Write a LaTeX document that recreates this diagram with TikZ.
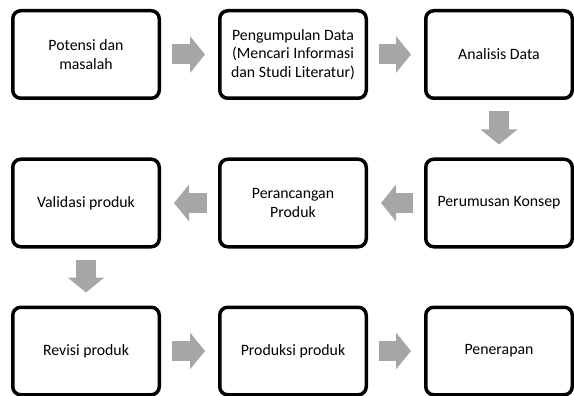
\documentclass[tikz,border=0pt]{standalone}
\usepackage{fontspec}
\setmainfont{Carlito}
\usetikzlibrary{arrows.meta}
\definecolor{arrowgray}{RGB}{166,166,166}

\begin{document}
\begin{tikzpicture}[x=1pt,y=-1pt,
    stage/.style={draw=black, line width=3.5pt, rounded corners=8pt,
        minimum width=146.5pt, minimum height=87.5pt, inner sep=2pt,
        align=center, font=\fontsize{15.8}{18.5}\selectfont},
    flow/.style={arrowgray, line width=20pt,
        -{Triangle[length=15pt,width=36pt]},
        shorten <=11pt, shorten >=13pt}]
    \useasboundingbox (0,0) rectangle (574,396);

    % Stages
    \node[stage] (potensi)  at (86,54.5)  {Potensi dan\\masalah};
    \node[stage] (data)     at (293,54.5) {Pengumpulan Data\\(Mencari Informasi\\dan Studi Literatur)};
    \node[stage] (analisis) at (499,54.5) {Analisis Data};

    \node[stage] (konsep)   at (499,203)  {Perumusan Konsep};
    \node[stage] (rancang)  at (293,203)  {Perancangan\\Produk};
    \node[stage] (validasi) at (86,203)   {Validasi produk};

    \node[stage] (revisi)   at (86,351)   {Revisi produk};
    \node[stage] (produksi) at (293,351)  {Produksi produk};
    \node[stage] (terap)    at (499,351)  {Penerapan};

    % Arrows
    \draw[flow] (potensi) -- (data);
    \draw[flow] (data) -- (analisis);
    \draw[flow] (analisis) -- (konsep);
    \draw[flow] (konsep) -- (rancang);
    \draw[flow] (rancang) -- (validasi);
    \draw[flow] (validasi) -- (revisi);
    \draw[flow] (revisi) -- (produksi);
    \draw[flow] (produksi) -- (terap);
\end{tikzpicture}
\end{document}
